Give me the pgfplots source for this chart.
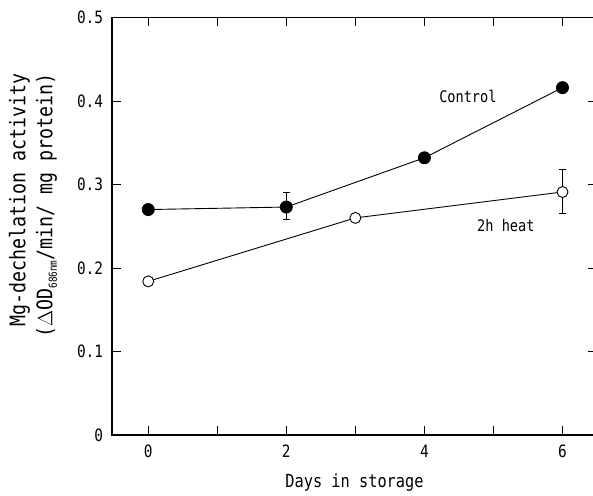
\documentclass[border=0pt]{standalone}
\usepackage{pgfplots}
\pgfplotsset{compat=1.18}
\usepackage{fontspec}
\setmainfont{DejaVu Sans Mono}[FakeStretch=0.85]
\begin{document}
\fontsize{17}{20}\selectfont
\begin{tikzpicture}
\begin{axis}[
  at={(112pt,60pt)}, anchor=south west,
  scale only axis, width=485pt, height=417.5pt,
  xmin=-0.525, xmax=6.5, ymin=0, ymax=0.5,
  xtick={0,1,2,3,4,5,6}, xticklabels={0,,2,,4,,6},
  ytick={0,0.1,0.2,0.3,0.4,0.5}, yticklabels={0,0.1,0.2,0.3,0.4,0.5},
  tick align=inside, major tick length=9pt,
  tick style={black, line width=0.9pt},
  axis line style={line width=1.2pt},
  /pgf/number format/assume math mode=true,
  tick label style={font=\fontsize{17}{19}\selectfont},
  xticklabel style={yshift=-4pt},
  yticklabel style={xshift=-3pt},
  xlabel={Days in storage},
  xlabel style={at={(axis description cs:0.5,0)}, anchor=center, yshift=-48pt, font=\fontsize{18}{20}\selectfont},
  ylabel={Mg-dechelation activity\\(\(\Delta\)OD\raisebox{-0.4ex}{\fontsize{11}{11}\selectfont 686nm}/min/ mg protein)},
  ylabel style={at={(axis description cs:0,0.5497)}, anchor=center, yshift=79pt, align=right, font=\fontsize{21.5}{27}\selectfont},
  clip=false,
]
\addplot[black, line width=0.9pt, mark=*, mark size=6pt, mark options={fill=black},
  error bars/.cd, y dir=both, y explicit, error mark options={rotate=90, mark size=3.5pt, line width=0.9pt}, error bar style={line width=0.9pt}]
  table[x=x, y=y, y error plus=ep, y error minus=em] {
x y ep em
0 0.270 0 0
2 0.273 0.017 0.015
4 0.332 0 0
6 0.416 0 0
};
\addplot[black, line width=0.9pt, mark=*, mark size=5.5pt, mark options={fill=white, line width=0.9pt},
  error bars/.cd, y dir=both, y explicit, error mark options={rotate=90, mark size=3.5pt, line width=0.9pt}, error bar style={line width=0.9pt}]
  table[x=x, y=y, y error plus=ep, y error minus=em] {
x y ep em
0 0.184 0 0
3 0.260 0 0
6 0.291 0.027 0.026
};
\node[font=\fontsize{16}{18}\selectfont] at (axis cs:4.63,0.405) {Control};
\node[font=\fontsize{16}{18}\selectfont] at (axis cs:5.18,0.251) {2h heat};
\end{axis}
\pgfresetboundingbox
\useasboundingbox (0,0) rectangle (593pt,495pt);
\end{tikzpicture}
\end{document}
